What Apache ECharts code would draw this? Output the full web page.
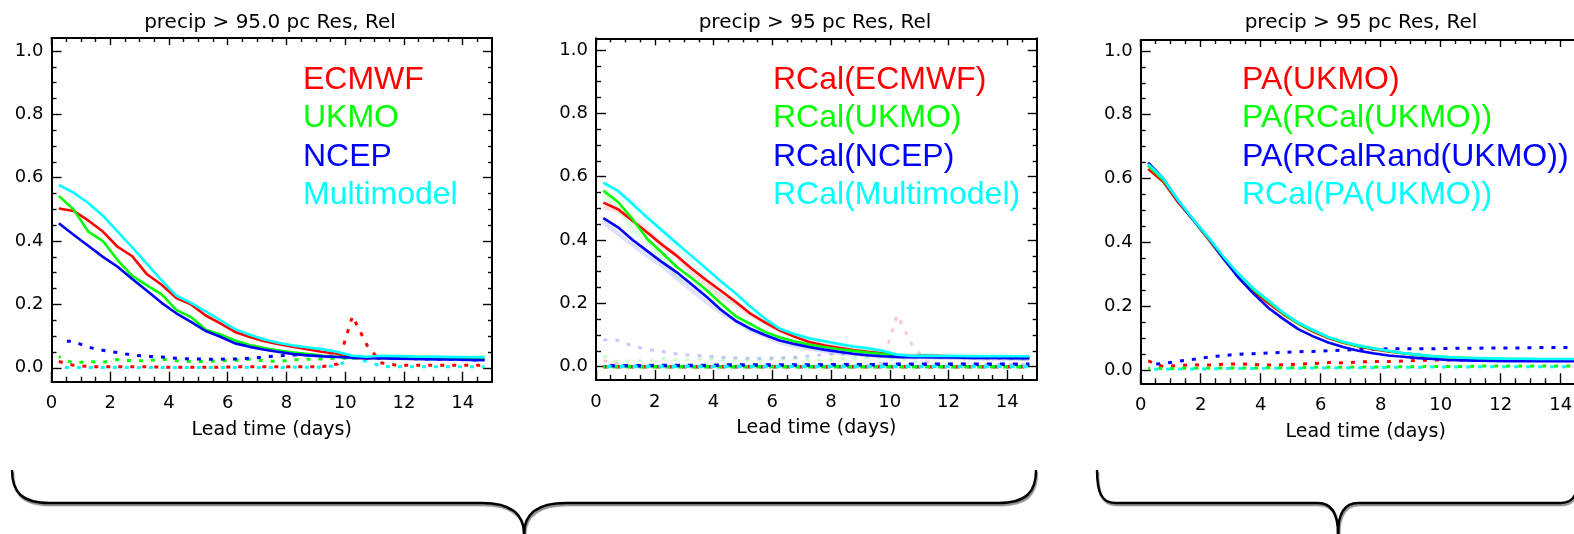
<!DOCTYPE html>
<html>
<head>
<meta charset="utf-8">
<script src="https://cdn.jsdelivr.net/npm/echarts@6/dist/echarts.min.js"></script>
<style>
html,body{margin:0;padding:0;background:#fff;}
#chart{width:1574px;height:534px;}
</style>
</head>
<body>
<div id="chart"></div>
<script>
// ---------------- DATA ----------------
const leadTime = [0.25,0.75,1.25,1.75,2.25,2.75,3.25,3.75,4.25,4.75,5.25,5.75,6.25,6.75,7.25,7.75,8.25,8.75,9.25,9.75,10.25,10.75,11.25,11.75,12.25,12.75,13.25,13.75,14.25,14.75];

const xMajorTicks = [0,2,4,6,8,10,12,14];
const xMinorTicks = [0.5,1,1.5,2.5,3,3.5,4.5,5,5.5,6.5,7,7.5,8.5,9,9.5,10.5,11,11.5,12.5,13,13.5,14.5];
const yMajorTicks = [0,0.2,0.4,0.6,0.8,1.0];
const yMinorTicks = [0.05,0.1,0.15,0.25,0.3,0.35,0.45,0.5,0.55,0.65,0.7,0.75,0.85,0.9,0.95];

const panelTitles = ['precip > 95.0 pc Res, Rel', 'precip > 95 pc Res, Rel', 'precip > 95 pc Res, Rel'];
const xAxisTitle = 'Lead time (days)';
const colors = ['#ff0000', '#00ff00', '#0000ff', '#00ffff'];

const panel1Names = ['ECMWF', 'UKMO', 'NCEP', 'Multimodel'];
const panel2Names = ['RCal(ECMWF)', 'RCal(UKMO)', 'RCal(NCEP)', 'RCal(Multimodel)'];
const panel3Names = ['PA(UKMO)', 'PA(RCal(UKMO))', 'PA(RCalRand(UKMO))', 'RCal(PA(UKMO))'];

// Panel 1: resolution (solid) and reliability (dotted)
const p1ResECMWF = [0.503,0.495,0.465,0.43,0.382,0.352,0.295,0.262,0.22,0.2,0.165,0.14,0.113,0.097,0.084,0.074,0.066,0.058,0.05,0.044,0.031,0.03,0.032,0.031,0.03,0.03,0.03,0.029,0.028,0.027];
const p1ResUKMO  = [0.542,0.5,0.43,0.4,0.34,0.29,0.26,0.232,0.183,0.16,0.12,0.105,0.086,0.072,0.062,0.054,0.048,0.043,0.038,0.035,0.032,0.032,0.031,0.03,0.03,0.029,0.029,0.028,0.028,0.027];
const p1ResNCEP  = [0.456,0.42,0.385,0.35,0.319,0.28,0.243,0.205,0.172,0.145,0.116,0.098,0.077,0.066,0.057,0.05,0.043,0.039,0.036,0.034,0.032,0.03,0.03,0.029,0.028,0.027,0.026,0.026,0.025,0.024];
const p1ResMulti = [0.577,0.553,0.52,0.48,0.43,0.38,0.328,0.276,0.228,0.205,0.178,0.15,0.122,0.104,0.089,0.078,0.07,0.064,0.058,0.05,0.038,0.035,0.038,0.037,0.036,0.035,0.035,0.034,0.034,0.034];
const p1RelECMWF = [0.02,0.008,0.004,0.003,0.003,0.003,0.003,0.002,0.002,0.002,0.002,0.002,0.003,0.003,0.003,0.003,0.003,0.003,0.004,0.012,0.163,0.07,0.015,0.008,0.008,0.008,0.008,0.008,0.008,0.008];
const p1RelUKMO  = [0.035,0.014,0.02,0.017,0.026,0.022,0.022,0.027,0.022,0.02,0.02,0.022,0.024,0.027,0.022,0.02,0.025,0.027,0.028,0.03,0.03,0.031,0.03,0.03,0.029,0.028,0.027,0.026,0.026,0.025];
const p1RelNCEP  = [0.085,0.083,0.065,0.055,0.048,0.04,0.036,0.034,0.03,0.028,0.027,0.027,0.028,0.03,0.034,0.038,0.04,0.04,0.038,0.036,0.033,0.03,0.03,0.03,0.029,0.028,0.027,0.026,0.025,0.024];
const p1RelMulti = [0.001,0.001,0.001,0.001,0.001,0.001,0.001,0.001,0.001,0.001,0.001,0.001,0.001,0.001,0.001,0.001,0.002,0.002,0.002,0.008,0.03,0.02,0.004,0.003,0.003,0.003,0.003,0.003,0.003,0.003];

// Panel 2: recalibrated
const p2ResECMWF = [0.518,0.497,0.46,0.423,0.385,0.35,0.31,0.274,0.24,0.205,0.168,0.14,0.115,0.095,0.078,0.068,0.06,0.053,0.047,0.042,0.035,0.034,0.035,0.034,0.033,0.032,0.032,0.031,0.031,0.03];
const p2ResUKMO  = [0.556,0.52,0.465,0.403,0.36,0.315,0.28,0.243,0.2,0.16,0.135,0.11,0.093,0.08,0.07,0.062,0.055,0.05,0.045,0.04,0.034,0.033,0.032,0.032,0.031,0.031,0.031,0.03,0.03,0.03];
const p2ResNCEP  = [0.469,0.44,0.4,0.365,0.33,0.298,0.26,0.222,0.18,0.145,0.12,0.1,0.083,0.072,0.062,0.054,0.047,0.041,0.036,0.033,0.031,0.03,0.03,0.029,0.029,0.028,0.028,0.028,0.027,0.027];
const p2ResMulti = [0.581,0.555,0.513,0.47,0.43,0.39,0.35,0.31,0.27,0.232,0.19,0.152,0.12,0.103,0.09,0.081,0.072,0.064,0.058,0.05,0.038,0.034,0.035,0.034,0.034,0.033,0.033,0.033,0.033,0.033];
const p2RelECMWF = [0,0,0,0,0,0,0,0,0,0,0,0,0,0,0,0,0,0,0,0,0,0,0,0,0,0,0,0,0,0];
const p2RelUKMO  = [0,0,0,0,0,0,0,0,0,0,0,0,0,0,0,0,0,0,0,0,0,0,0,0,0,0,0,0,0,0];
const p2RelNCEP  = [0.003,0.003,0.003,0.003,0.004,0.004,0.004,0.004,0.005,0.005,0.005,0.005,0.005,0.005,0.005,0.006,0.006,0.006,0.006,0.007,0.008,0.008,0.008,0.008,0.008,0.008,0.008,0.008,0.008,0.008];
const p2RelMulti = [0.001,0.001,0.001,0.001,0.001,0.001,0.001,0.001,0.001,0.001,0.001,0.001,0.001,0.001,0.001,0.001,0.001,0.001,0.001,0.001,0.001,0.001,0.001,0.001,0.001,0.001,0.001,0.001,0.001,0.001];

// Panel 3: post-processed UKMO
const p3ResPA       = [0.63,0.59,0.525,0.47,0.41,0.35,0.295,0.245,0.21,0.175,0.145,0.12,0.1,0.085,0.074,0.065,0.058,0.052,0.047,0.042,0.038,0.035,0.033,0.032,0.031,0.031,0.03,0.03,0.03,0.03];
const p3ResPARCal   = [0.64,0.595,0.53,0.47,0.413,0.352,0.298,0.252,0.215,0.178,0.146,0.123,0.102,0.087,0.075,0.067,0.059,0.052,0.047,0.043,0.04,0.038,0.036,0.035,0.034,0.034,0.033,0.033,0.033,0.033];
const p3ResPARand   = [0.65,0.6,0.53,0.47,0.415,0.35,0.29,0.24,0.195,0.16,0.128,0.105,0.086,0.072,0.06,0.052,0.045,0.041,0.037,0.034,0.031,0.03,0.029,0.028,0.027,0.027,0.027,0.027,0.027,0.027];
const p3ResRCalPA   = [0.645,0.6,0.532,0.472,0.416,0.356,0.302,0.256,0.218,0.18,0.148,0.125,0.103,0.088,0.077,0.068,0.06,0.053,0.048,0.043,0.04,0.038,0.037,0.036,0.035,0.035,0.034,0.034,0.034,0.034];
const p3RelPA       = [0.028,0.01,0.014,0.016,0.015,0.018,0.019,0.017,0.015,0.016,0.018,0.02,0.023,0.022,0.025,0.026,0.026,0.028,0.03,0.031,0.031,0.03,0.03,0.03,0.03,0.03,0.03,0.029,0.029,0.029];
const p3RelPARCal   = [0.004,0.004,0.005,0.005,0.005,0.006,0.006,0.006,0.007,0.007,0.007,0.008,0.008,0.008,0.009,0.009,0.01,0.01,0.01,0.011,0.011,0.011,0.012,0.012,0.012,0.012,0.012,0.012,0.012,0.012];
const p3RelPARand   = [0.016,0.02,0.027,0.033,0.04,0.045,0.049,0.051,0.053,0.055,0.057,0.058,0.06,0.062,0.064,0.065,0.066,0.066,0.066,0.066,0.067,0.068,0.068,0.069,0.069,0.069,0.07,0.07,0.07,0.07];
const p3RelRCalPA   = [0.002,0.002,0.003,0.003,0.003,0.004,0.004,0.004,0.005,0.005,0.005,0.006,0.006,0.006,0.007,0.007,0.008,0.008,0.008,0.009,0.009,0.009,0.01,0.01,0.01,0.01,0.01,0.01,0.01,0.01];

// ---------------- LAYOUT ----------------
const panels = [
  {left:51.5, top:38, width:440.5, height:343.7, yMin:-0.044, yMax:1.041, titleX:270, legendX:303, rightFrame:true},
  {left:596, top:38.3, width:440.7, height:341.7, yMin:-0.042, yMax:1.037, titleX:815, legendX:773, rightFrame:true},
  {left:1140.7, top:40, width:450, height:343.3, yMin:-0.042, yMax:1.034, titleX:1361, legendX:1242, rightFrame:false}
];
const FONT = 'DejaVu Sans';

const grid = [], xAxis = [], yAxis = [];
panels.forEach((p, g) => {
  grid.push({left:p.left, top:p.top, width:p.width, height:p.height, containLabel:false, outerBoundsMode:'none'});
  const lineOn = {show:true, onZero:false, lineStyle:{color:'#000', width:2}};
  const lineOff = {show:false, onZero:false};
  const noSplit = {show:false};
  const tick = (vals, len) => ({show:true, inside:true, length:len, customValues:vals, lineStyle:{color:'#000', width:1.4}});
  xAxis.push({type:'value', gridIndex:g, position:'bottom', min:0, max:15,
    axisLine:lineOn, axisTick:tick(xMajorTicks, 10), splitLine:noSplit,
    axisLabel:{show:true, customValues:xMajorTicks, margin:13, color:'#000', fontSize:18, fontFamily:FONT, formatter:v => String(v)},
    name:xAxisTitle, nameLocation:'middle', nameGap:39,
    nameTextStyle:{color:'#000', fontSize:19, fontFamily:FONT}});
  xAxis.push({type:'value', gridIndex:g, position:'bottom', min:0, max:15,
    axisLine:lineOff, axisTick:tick(xMinorTicks, 5), axisLabel:{show:false}, splitLine:noSplit});
  xAxis.push({type:'value', gridIndex:g, position:'top', min:0, max:15,
    axisLine:lineOn, axisTick:tick(xMajorTicks, 7), axisLabel:{show:false}, splitLine:noSplit});
  xAxis.push({type:'value', gridIndex:g, position:'top', min:0, max:15,
    axisLine:lineOff, axisTick:tick(xMinorTicks, 4), axisLabel:{show:false}, splitLine:noSplit});
  yAxis.push({type:'value', gridIndex:g, position:'left', min:p.yMin, max:p.yMax,
    axisLine:lineOn, axisTick:tick(yMajorTicks, 10), splitLine:noSplit,
    axisLabel:{show:true, customValues:yMajorTicks, margin:8, color:'#000', fontSize:18, fontFamily:FONT, formatter:v => v.toFixed(1)}});
  yAxis.push({type:'value', gridIndex:g, position:'left', min:p.yMin, max:p.yMax,
    axisLine:lineOff, axisTick:tick(yMinorTicks, 5), axisLabel:{show:false}, splitLine:noSplit});
  yAxis.push({type:'value', gridIndex:g, position:'right', min:p.yMin, max:p.yMax,
    axisLine:p.rightFrame ? lineOn : lineOff, axisTick:Object.assign(tick(yMajorTicks, 9), {show:p.rightFrame}),
    axisLabel:{show:false}, splitLine:noSplit});
  yAxis.push({type:'value', gridIndex:g, position:'right', min:p.yMin, max:p.yMax,
    axisLine:lineOff, axisTick:Object.assign(tick(yMinorTicks, 4), {show:p.rightFrame}),
    axisLabel:{show:false}, splitLine:noSplit});
});

const series = [];
function addLine(name, g, values, color, kind, k) {
  let ls;
  if (kind === 'solid') ls = {width:2.6, color:color};
  else if (kind === 'dotted') ls = {width:3, color:color, type:[4, 8], dashOffset:k * 2};
  else if (kind === 'fadedSolid') ls = {width:4.5, color:color, opacity:0.12};
  else if (kind === 'fadedDotted') ls = {width:3, color:color, type:[4, 8], opacity:0.22};
  else ls = {width:3.5, color:color, type:[5, 8], dashOffset:k * 3.25};
  series.push({
    name:name, type:'line', xAxisIndex:g*4, yAxisIndex:g*4,
    data:leadTime.map((t, i) => [t, values[i]]),
    showSymbol:false, symbol:'none', lineStyle:ls, silent:true, animation:false,
    clip:true
  });
}

const p1Res = [p1ResECMWF, p1ResUKMO, p1ResNCEP, p1ResMulti];
const p1Rel = [p1RelECMWF, p1RelUKMO, p1RelNCEP, p1RelMulti];
p1Rel.forEach((v, k) => addLine(panel1Names[k] + ' Rel', 0, v, colors[k], 'dotted', k));
p1Res.forEach((v, k) => addLine(panel1Names[k], 0, v, colors[k], 'solid', k));

p1Rel.forEach((v, k) => addLine(panel1Names[k] + ' Rel (orig)', 1, v, colors[k], 'fadedDotted', k));
p1Res.forEach((v, k) => addLine(panel1Names[k] + ' (orig)', 1, v, colors[k], 'fadedSolid', k));
const p2Res = [p2ResECMWF, p2ResUKMO, p2ResNCEP, p2ResMulti];
const p2Rel = [p2RelECMWF, p2RelUKMO, p2RelNCEP, p2RelMulti];
p2Res.forEach((v, k) => addLine(panel2Names[k], 1, v, colors[k], 'solid', k));
p2Rel.forEach((v, k) => addLine(panel2Names[k] + ' Rel', 1, v, colors[k], 'dashed', k));

const p3Res = [p3ResPA, p3ResPARCal, p3ResPARand, p3ResRCalPA];
const p3Rel = [p3RelPA, p3RelPARCal, p3RelPARand, p3RelRCalPA];
p3Rel.forEach((v, k) => addLine(panel3Names[k] + ' Rel', 2, v, colors[k], 'dotted', k));
p3Res.forEach((v, k) => addLine(panel3Names[k], 2, v, colors[k], 'solid', k));

// ---------------- GRAPHIC (titles, legend texts, braces) ----------------
const graphic = [];
const legendRows = [80, 118, 157, 195];
const legendNames = [panel1Names, panel2Names, panel3Names];
panels.forEach((p, g) => {
  graphic.push({type:'text', x:p.titleX, y:23, silent:true,
    style:{text:panelTitles[g], fill:'#000', font:'20px "' + FONT + '"', align:'center', verticalAlign:'middle'}});
  legendNames[g].forEach((nm, k) => {
    graphic.push({type:'text', x:p.legendX, y:legendRows[k], silent:true,
      style:{text:nm, fill:colors[k], font:'32px "Liberation Sans"', align:'left', verticalAlign:'middle'}});
  });
});
const braceStyle = {stroke:'#000', lineWidth:2.4, fill:null,
  shadowColor:'rgba(0,0,0,0.45)', shadowOffsetX:1, shadowOffsetY:2, shadowBlur:1};
function addBrace(x1, x2, c, rEnd, rMid) {
  const yT = 470, yM = 503, yB = 534;
  [[x1, 1], [x2, -1]].forEach(([xe, d]) => {
    graphic.push({type:'bezierCurve', silent:true, style:braceStyle,
      shape:{x1:xe, y1:yT, cpx1:xe, cpy1:yT + 22, cpx2:xe + d * rEnd * 0.25, cpy2:yM, x2:xe + d * rEnd, y2:yM}});
    graphic.push({type:'line', silent:true, style:braceStyle,
      shape:{x1:xe + d * rEnd, y1:yM, x2:c - d * rMid, y2:yM}});
    graphic.push({type:'bezierCurve', silent:true, style:braceStyle,
      shape:{x1:c - d * rMid, y1:yM, cpx1:c - d * rMid * 0.45, cpy1:yM, cpx2:c, cpy2:yM + 7, x2:c, y2:yB}});
  });
}
addBrace(12, 1036, 524, 38, 42);
addBrace(1097, 1579, 1338, 18, 20);

const chart = echarts.init(document.getElementById('chart'), null, {renderer:'canvas'});
chart.setOption({
  animation:false,
  backgroundColor:'#fff',
  grid:grid, xAxis:xAxis, yAxis:yAxis,
  series:series,
  graphic:graphic
});
</script>
</body>
</html>
